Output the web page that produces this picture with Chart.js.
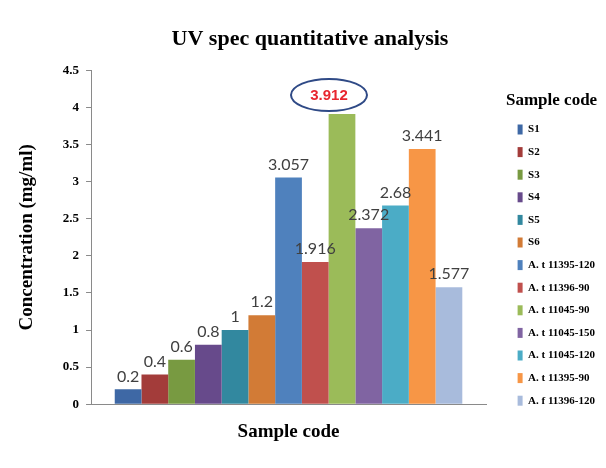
<!DOCTYPE html>
<html lang="en">
<head>
    <meta charset="UTF-8">
    <title>UV spec quantitative analysis</title>
    <script src="https://cdn.jsdelivr.net/npm/chart.js@4.4.1/dist/chart.umd.min.js"></script>
    <style>
        html, body { margin: 0; padding: 0; background: #fff; }
        #wrap { width: 606px; height: 468px; }
    </style>
</head>
<body>
<div id="wrap">
    <canvas id="uvChart"></canvas>
</div>
<script>
  // values
  const sampleCodes = ['S1', 'S2', 'S3', 'S4', 'S5', 'S6',
    'A. t 11395-120', 'A. t 11396-90', 'A. t 11045-90', 'A. t 11045-150',
    'A. t 11045-120', 'A. t 11395-90', 'A. f 11396-120'];
  const concentrations = [0.2, 0.4, 0.6, 0.8, 1, 1.2, 3.057, 1.916, 3.912, 2.372, 2.68, 3.441, 1.577];
  const barColors = ['#3e68a5', '#a33c3a', '#789a41', '#674a8b', '#32889f', '#d27b36',
    '#4f81bd', '#c0504d', '#9bbb59', '#8064a2', '#4bacc6', '#f79646', '#a8bbdc'];
  const highlighted = 'A. t 11045-90';
  const yMin = 0, yMax = 4.5, yStep = 0.5;

  const serif = '"Liberation Serif", "Times New Roman", serif';

  // value labels above each bar, the top one circled in red
  const valueLabels = {
    id: 'valueLabels',
    afterDatasetsDraw(chart) {
      const ctx = chart.ctx;
      ctx.save();
      chart.data.datasets.forEach((ds, i) => {
        const bar = chart.getDatasetMeta(i).data[0];
        if (!bar) return;
        const text = String(ds.data[0]);
        ctx.textAlign = 'center';
        ctx.textBaseline = 'middle';
        if (ds.label === highlighted) {
          const cx = bar.x - 13, cy = bar.y - 19;
          ctx.beginPath();
          ctx.ellipse(cx, cy, 38, 16, 0, 0, Math.PI * 2);
          ctx.lineWidth = 2;
          ctx.strokeStyle = '#2f4a86';
          ctx.stroke();
          ctx.font = 'bold 15px "Liberation Sans", Arial, sans-serif';
          ctx.fillStyle = '#e8262f';
          ctx.fillText(text, cx, cy + 1);
        } else {
          ctx.font = '16px Lato, "Open Sans", sans-serif';
          ctx.fillStyle = '#404040';
          ctx.fillText(text, bar.x, bar.y - 13);
        }
      });
      ctx.restore();
    }
  };

  const datasets = sampleCodes.map((code, i) => ({
    label: code,
    data: [concentrations[i]],
    backgroundColor: barColors[i],
    borderWidth: 0
  }));

  new Chart(document.getElementById('uvChart'), {
    type: 'bar',
    data: { labels: [''], datasets: datasets },
    options: {
      responsive: true,
      maintainAspectRatio: false,
      animation: false,
      barPercentage: 1,
      categoryPercentage: 0.88,
      layout: { padding: { top: 0, left: 16, right: 2, bottom: 25 } },
      plugins: {
        tooltip: { enabled: false },
        title: {
          display: true,
          text: 'UV spec quantitative analysis',
          color: '#000',
          font: { family: serif, size: 22, weight: 'bold' },
          padding: { top: 26, bottom: 18 }
        },
        legend: {
          position: 'right',
          align: 'start',
          title: {
            display: true,
            text: 'Sample code',
            position: 'start',
            color: '#000',
            font: { family: serif, size: 17, weight: 'bold' },
            padding: { top: 92, bottom: 0 }
          },
          labels: {
            boxWidth: 5,
            boxHeight: 10,
            padding: 11.6,
            color: '#000',
            font: { family: serif, size: 11, weight: 'bold' }
          }
        }
      },
      scales: {
        x: {
          grid: { display: false },
          border: { display: true, color: '#8a8a8a', width: 1 },
          ticks: { display: false },
          title: {
            display: true,
            text: 'Sample code',
            color: '#000',
            font: { family: serif, size: 19, weight: 'bold' },
            padding: { top: 8, bottom: 0 }
          }
        },
        y: {
          min: yMin,
          max: yMax,
          grid: { drawOnChartArea: false, drawTicks: true, tickLength: 5, color: '#8a8a8a' },
          border: { display: true, color: '#8a8a8a', width: 1 },
          ticks: {
            stepSize: yStep,
            padding: 7,
            color: '#000',
            font: { family: serif, size: 13, weight: 'bold' },
            callback: (v) => String(Math.round(v * 10) / 10)
          },
          title: {
            display: true,
            text: 'Concentration (mg/ml)',
            color: '#000',
            font: { family: serif, size: 19, weight: 'bold' },
            padding: { top: 0, bottom: 17 }
          }
        },
        gap: {
          position: 'right',
          display: true,
          grid: { display: false },
          border: { display: false },
          ticks: { display: false },
          afterFit(scale) { scale.width = 20; }
        }
      }
    },
    plugins: [valueLabels]
  });
</script>
</body>
</html>
